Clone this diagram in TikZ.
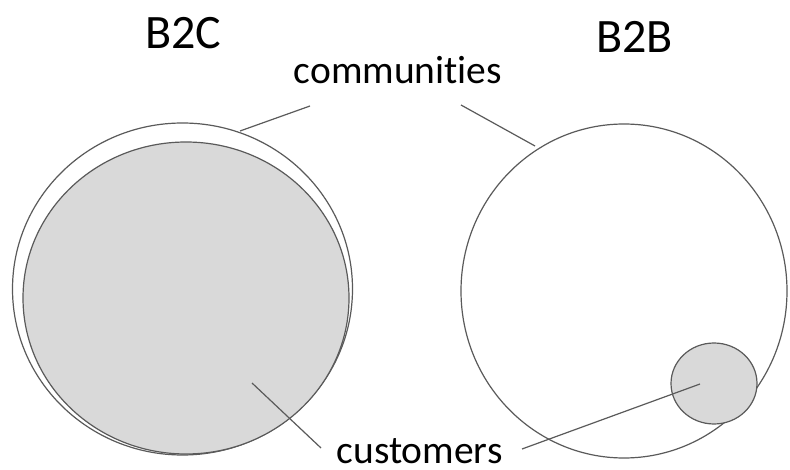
\documentclass[tikz,border=0pt]{standalone}
\usepackage{fontspec}
\setmainfont{Carlito}[Ligatures=CommonOff]
\usetikzlibrary{shapes.geometric}
\definecolor{edge}{HTML}{5A5A5A}
\definecolor{shade}{HTML}{D9D9D9}
\tikzset{
  ring/.style={draw=edge, line width=1.2pt, ellipse, inner sep=0pt},
  lead/.style={draw=edge, line width=1.2pt},
  title/.style={font=\fontsize{48}{50}\selectfont, anchor=base, inner sep=0pt},
  tag/.style={font=\fontsize{39.5}{42}\selectfont, anchor=base, inner sep=0pt, text depth=0pt}
}
\begin{document}
\begin{tikzpicture}[x=1pt, y=-1pt]
  \useasboundingbox[fill=white] (0,0) rectangle (790,470);

  % headings and labels
  \node[title] (b2c) at (183.5,49) {B2C};
  \node[title] (b2b) at (634.5,53) {B2B};
  \node[tag] (comm) at (398,84) {communities};
  \node[tag] (cust) at (419.5,463.5) {customers};

  % B2C: communities and customers almost coincide
  \node[ring, fill=white, minimum width=340pt, minimum height=332pt] (c2c) at (182.5,289) {};
  \node[ring, fill=shade, minimum width=326pt, minimum height=312pt] (k2c) at (186,298) {};

  % B2B: customers are a small part of the community
  \node[ring, fill=white, minimum width=326pt, minimum height=334pt] (c2b) at (624,291) {};
  \node[ring, fill=shade, minimum width=86pt, minimum height=81pt] (k2b) at (714,383.5) {};

  % leader lines
  \coordinate (cl0) at (310,106);
  \coordinate (cl1) at (240,131);
  \coordinate (cr0) at (461,105);
  \coordinate (cr1) at (535,146);
  \coordinate (kl0) at (321,448);
  \coordinate (kl1) at (252,383);
  \coordinate (kr0) at (522,449);
  \coordinate (kr1) at (700,384);
  \draw[lead] (cl0) -- (cl1);
  \draw[lead] (cr0) -- (cr1);
  \draw[lead] (kl0) -- (kl1);
  \draw[lead] (kr0) -- (kr1);
\end{tikzpicture}
\end{document}
